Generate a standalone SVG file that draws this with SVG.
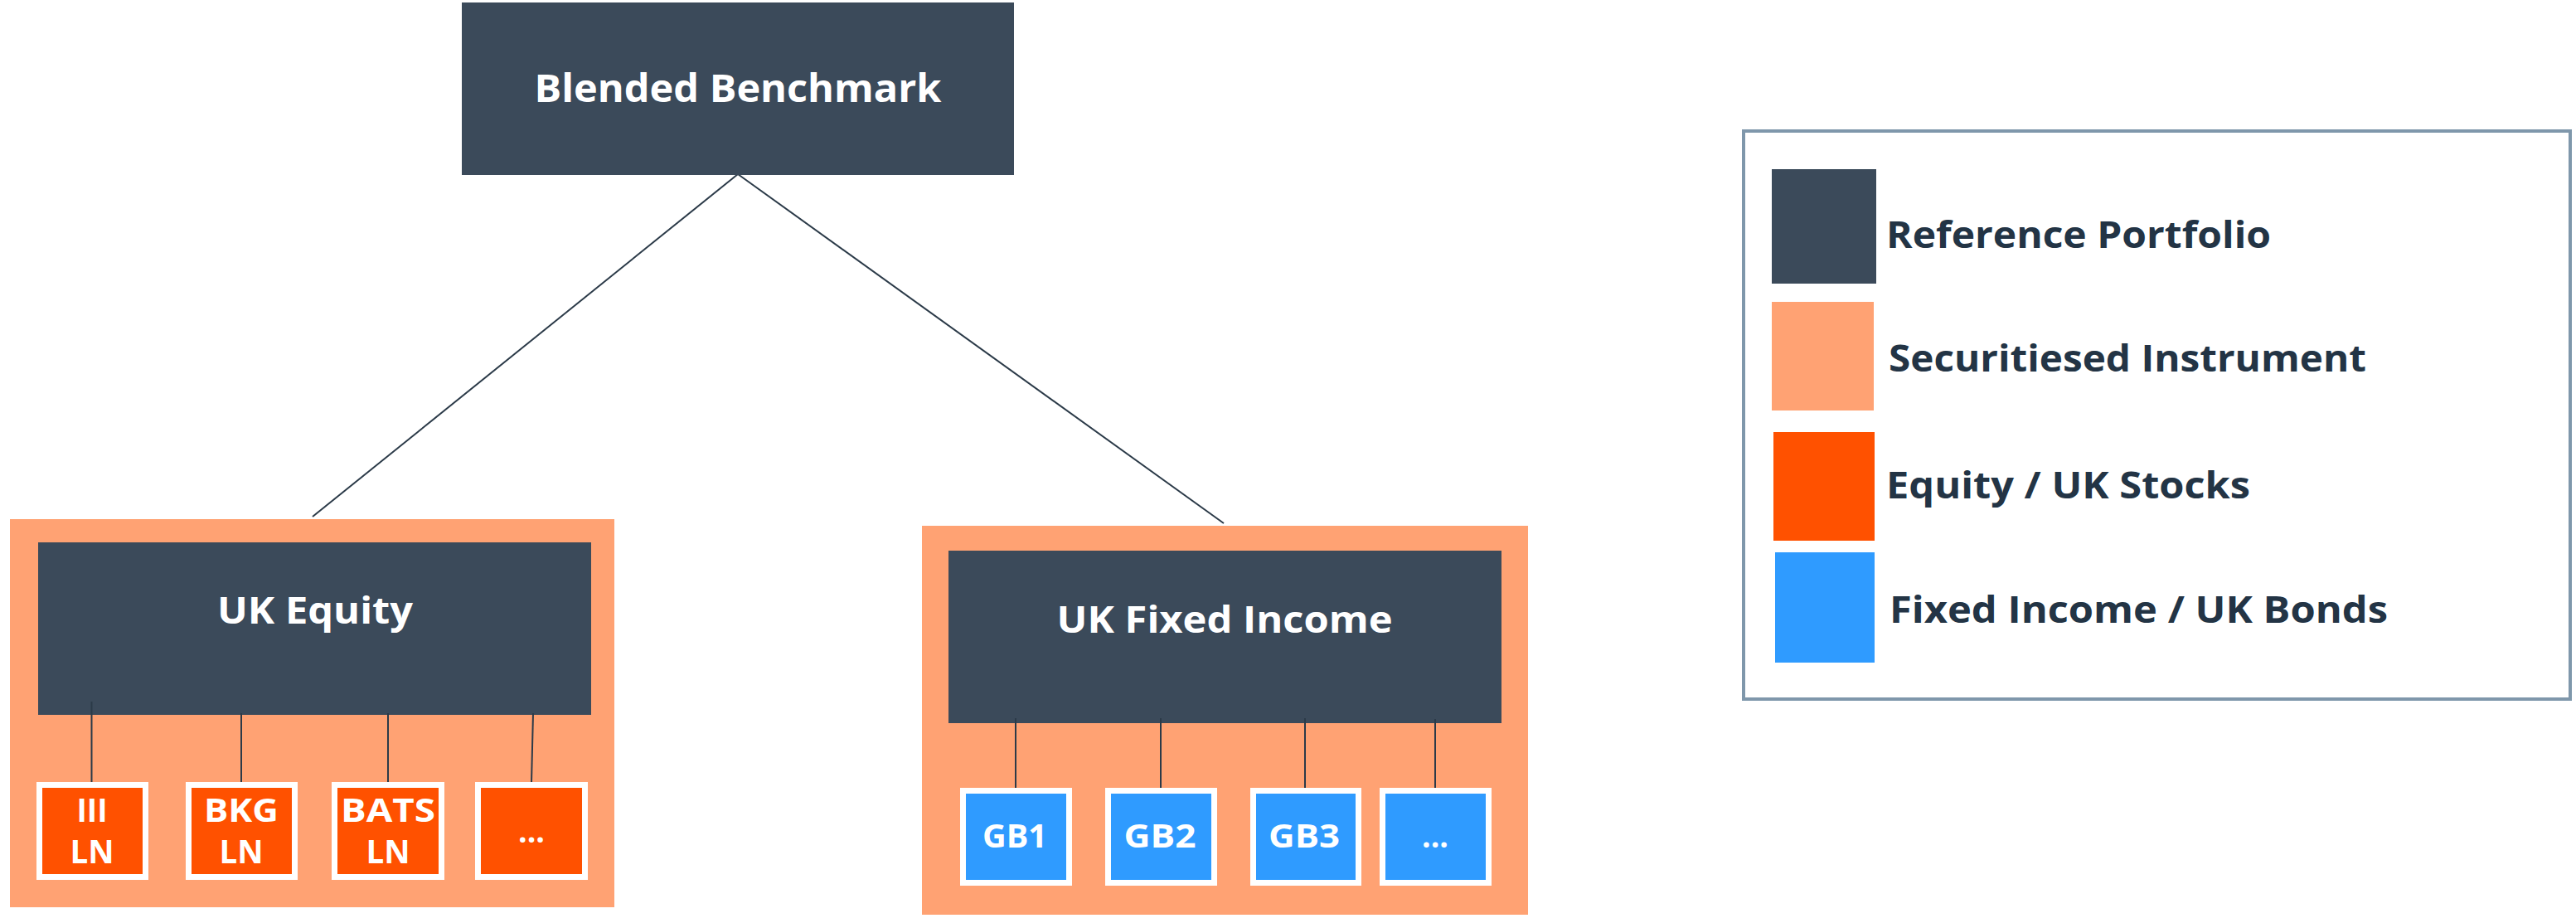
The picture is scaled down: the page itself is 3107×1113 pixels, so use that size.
<svg xmlns="http://www.w3.org/2000/svg" width="3107" height="1113" viewBox="0 0 3107 1113">
<style>
.t{font-family:"Open Sans","Liberation Sans",sans-serif;font-weight:700;fill:#ffffff;text-anchor:middle}
.lg{font-family:"Open Sans","Liberation Sans",sans-serif;font-weight:700;fill:#233445;font-size:45px}
.dark{fill:#3b4a5a}
.peach{fill:#ffa273}
.eq{fill:#ff5100;stroke:#ffffff;stroke-width:7}
.fi{fill:#2f9bff;stroke:#ffffff;stroke-width:7}
.c{stroke:#2b3a48;stroke-width:2;fill:none}
</style>
<rect width="3107" height="1113" fill="#ffffff"/>
<g id="equity-container"><rect class="peach" x="12" y="626" width="729" height="468"/></g>
<g id="fixed-container"><rect class="peach" x="1112" y="634" width="731" height="469"/></g>
<g id="connectors">
<line class="c" x1="890" y1="210" x2="377" y2="623" stroke-width="1.5"/>
<line class="c" x1="890" y1="210" x2="1476" y2="631" stroke-width="1.5"/>
</g>
<g id="blended-benchmark"><rect class="dark" x="557" y="3" width="666" height="208"/><text class="t" x="890" y="123" font-size="47" textLength="491" lengthAdjust="spacingAndGlyphs">Blended Benchmark</text></g>
<g id="uk-equity"><rect class="dark" x="46" y="654" width="667" height="208"/><text class="t" x="380" y="752" font-size="45" textLength="236" lengthAdjust="spacingAndGlyphs">UK Equity</text></g>
<g id="uk-fixed-income"><rect class="dark" x="1144" y="664" width="667" height="208"/><text class="t" x="1477" y="763" font-size="45" textLength="405" lengthAdjust="spacingAndGlyphs">UK Fixed Income</text></g>
<g id="connectors-children">
<line class="c" x1="110.5" y1="846" x2="110.5" y2="944"/>
<line class="c" x1="291" y1="860" x2="291" y2="944"/>
<line class="c" x1="468" y1="860" x2="468" y2="944"/>
<line class="c" x1="643" y1="860" x2="641" y2="944"/>
<line class="c" x1="1225" y1="866" x2="1225" y2="952"/>
<line class="c" x1="1400" y1="866" x2="1400" y2="952"/>
<line class="c" x1="1574" y1="866" x2="1574" y2="952"/>
<line class="c" x1="1731" y1="867" x2="1731" y2="952"/>
</g>
<g id="iii-ln"><rect class="eq" x="47.5" y="946.5" width="128" height="111"/><text class="t" x="111" y="991" font-size="40" textLength="37" lengthAdjust="spacingAndGlyphs">III</text><text class="t" x="111" y="1041" font-size="40" textLength="53" lengthAdjust="spacingAndGlyphs">LN</text></g>
<g id="bkg-ln"><rect class="eq" x="227.5" y="946.5" width="128" height="111"/><text class="t" x="291" y="991" font-size="40" textLength="90" lengthAdjust="spacingAndGlyphs">BKG</text><text class="t" x="291" y="1041" font-size="40" textLength="53" lengthAdjust="spacingAndGlyphs">LN</text></g>
<g id="bats-ln"><rect class="eq" x="403.5" y="946.5" width="129" height="111"/><text class="t" x="468" y="991" font-size="40" textLength="114" lengthAdjust="spacingAndGlyphs">BATS</text><text class="t" x="468" y="1041" font-size="40" textLength="53" lengthAdjust="spacingAndGlyphs">LN</text></g>
<g id="equity-more"><rect class="eq" x="576.5" y="946.5" width="129" height="111"/><text class="t" x="641" y="1016" font-size="40" textLength="32" lengthAdjust="spacingAndGlyphs">...</text></g>
<g id="gb1"><rect class="fi" x="1161.5" y="953.5" width="128" height="111"/><text class="t" x="1224" y="1022" font-size="40" textLength="78" lengthAdjust="spacingAndGlyphs">GB1</text></g>
<g id="gb2"><rect class="fi" x="1336.5" y="953.5" width="128" height="111"/><text class="t" x="1399" y="1022" font-size="40" textLength="87" lengthAdjust="spacingAndGlyphs">GB2</text></g>
<g id="gb3"><rect class="fi" x="1511.5" y="953.5" width="127" height="111"/><text class="t" x="1573" y="1022" font-size="40" textLength="86" lengthAdjust="spacingAndGlyphs">GB3</text></g>
<g id="fixed-more"><rect class="fi" x="1667.5" y="953.5" width="128" height="111"/><text class="t" x="1731" y="1022" font-size="40" textLength="32" lengthAdjust="spacingAndGlyphs">...</text></g>
<g id="legend">
<rect x="2103" y="158" width="997" height="685" fill="#ffffff" stroke="#7f97ab" stroke-width="4"/>
<rect class="dark" x="2137" y="204" width="126" height="138"/>
<rect class="peach" x="2137" y="364" width="123" height="131"/>
<rect x="2139" y="521" width="122" height="131" fill="#ff5100"/>
<rect x="2141" y="666" width="120" height="133" fill="#2f9bff"/>
<text class="lg" x="2275" y="299" textLength="464" lengthAdjust="spacingAndGlyphs">Reference Portfolio</text>
<text class="lg" x="2278" y="448" textLength="576" lengthAdjust="spacingAndGlyphs">Securitiesed Instrument</text>
<text class="lg" x="2275" y="601" textLength="439" lengthAdjust="spacingAndGlyphs">Equity / UK Stocks</text>
<text class="lg" x="2279" y="751" textLength="601" lengthAdjust="spacingAndGlyphs">Fixed Income / UK Bonds</text>
</g>
</svg>
